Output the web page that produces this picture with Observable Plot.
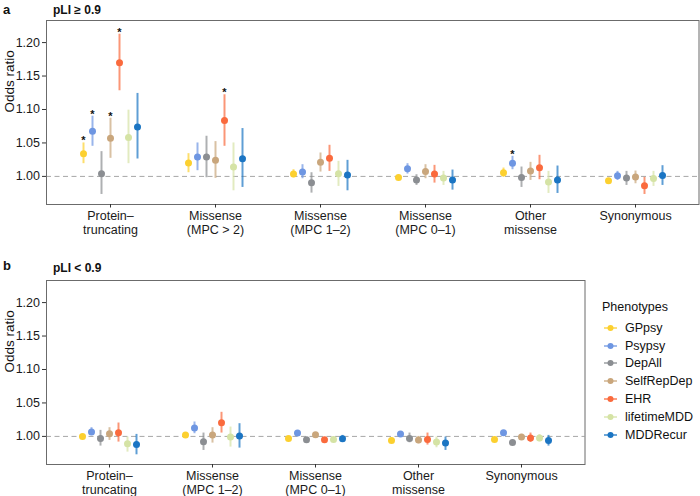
<!DOCTYPE html>
<html>
<head>
<meta charset="utf-8">
<script src="https://cdn.jsdelivr.net/npm/d3@7"></script>
<script src="https://cdn.jsdelivr.net/npm/@observablehq/plot@0.6"></script>
<style>
  html, body { margin: 0; padding: 0; background: #fff; }
  body { width: 700px; height: 496px; overflow: hidden; position: relative; font-family: "Liberation Sans", Arial, sans-serif; color: #111; }
  .abs { position: absolute; }
  .letter { font-weight: bold; font-size: 13px; }
  .ptitle { font-weight: bold; font-size: 12px; }
  #legend { font-size: 12.5px; color: #111; }
  #legend .row { display: flex; align-items: center; height: 17.8px; }
  #legend .row svg { margin-right: 6px; }
</style>
</head>
<body>
<div class="abs letter" style="left:3px;top:2px;">a</div>
<div class="abs ptitle" style="left:53px;top:3px;">pLI ≥ 0.9</div>
<div class="abs" id="panelA" style="left:0;top:0;"></div>
<div class="abs letter" style="left:3px;top:258px;">b</div>
<div class="abs ptitle" style="left:53px;top:261px;">pLI &lt; 0.9</div>
<div class="abs" id="panelB" style="left:0;top:260px;"></div>
<div class="abs" id="legend" style="left:602px;top:299px;"></div>
<script>
// ---------- data ----------
const phenotypes = ["GPpsy", "Psypsy", "DepAll", "SelfRepDep", "EHR", "lifetimeMDD", "MDDRecur"];
const phenoColors = ["#FCD02F", "#6E96E2", "#8B8E92", "#C9A67C", "#FA6A3D", "#D5E3A5", "#1B75C3"];

// Panel a: pLI >= 0.9
const catsA = ["Protein–\ntruncating", "Missense\n(MPC > 2)", "Missense\n(MPC 1–2)", "Missense\n(MPC 0–1)", "Other\nmissense", "Synonymous"];
const orA = [
  [1.034, 1.0675, 1.004, 1.057, 1.170, 1.058, 1.074],
  [1.020, 1.029, 1.029, 1.024, 1.0835, 1.014, 1.0265],
  [1.0035, 1.0065, 0.9905, 1.021, 1.027, 1.004, 1.002],
  [0.9985, 1.0115, 0.9945, 1.0075, 1.0035, 0.9975, 0.9945],
  [1.0055, 1.0195, 0.9985, 1.008, 1.013, 0.9915, 0.9945],
  [0.9935, 1.001, 0.9975, 0.999, 0.986, 0.997, 1.0015]
];
const loA = [
  [1.019, 1.045, 0.973, 1.027, 1.128, 1.019, 1.026],
  [1.0055, 1.0085, 0.998, 0.997, 1.045, 0.9785, 0.9835],
  [0.998, 0.9965, 0.975, 1.0065, 1.0075, 0.985, 0.9785],
  [0.996, 1.0035, 0.9865, 0.9965, 0.990, 0.9865, 0.9795],
  [0.9985, 1.010, 0.9835, 0.994, 0.995, 0.9745, 0.9745],
  [0.991, 0.994, 0.9865, 0.989, 0.973, 0.985, 0.9865]
];
const hiA = [
  [1.050, 1.090, 1.037, 1.087, 1.2125, 1.099, 1.124],
  [1.034, 1.050, 1.060, 1.052, 1.122, 1.050, 1.0715],
  [1.010, 1.0175, 1.0055, 1.035, 1.0465, 1.0225, 1.024],
  [1.001, 1.019, 1.0025, 1.0175, 1.0165, 1.0075, 1.0095],
  [1.0125, 1.030, 1.014, 1.021, 1.0315, 1.0075, 1.0155],
  [0.996, 1.0075, 1.0075, 1.008, 0.9985, 1.0075, 1.016]
];
const starA = [
  [1, 1, 0, 1, 1, 0, 0],
  [0, 0, 0, 0, 1, 0, 0],
  [0, 0, 0, 0, 0, 0, 0],
  [0, 0, 0, 0, 0, 0, 0],
  [0, 1, 0, 0, 0, 0, 0],
  [0, 0, 0, 0, 0, 0, 0]
];

// Panel b: pLI < 0.9
const catsB = ["Protein–\ntruncating", "Missense\n(MPC 1–2)", "Missense\n(MPC 0–1)", "Other\nmissense", "Synonymous"];
const orB = [
  [1.000, 1.0065, 0.997, 1.004, 1.0055, 0.989, 0.988],
  [1.002, 1.0125, 0.992, 1.002, 1.0205, 0.999, 1.0005],
  [0.997, 1.005, 0.995, 1.0025, 0.995, 0.9955, 0.9965],
  [0.994, 1.0035, 0.997, 0.9945, 0.9955, 0.9915, 0.990],
  [0.9955, 1.0055, 0.991, 0.999, 0.9975, 0.9975, 0.994]
];
const loB = [
  [0.998, 1.0015, 0.9855, 0.994, 0.9915, 0.9765, 0.9725],
  [0.998, 1.004, 0.979, 0.990, 1.005, 0.984, 0.9825],
  [0.995, 1.003, 0.993, 1.0005, 0.992, 0.9935, 0.9925],
  [0.992, 0.999, 0.9905, 0.989, 0.987, 0.983, 0.979],
  [0.9935, 1.0035, 0.988, 0.995, 0.991, 0.992, 0.9855]
];
const hiB = [
  [1.002, 1.013, 1.009, 1.013, 1.020, 0.999, 1.003],
  [1.0055, 1.0215, 1.005, 1.013, 1.036, 1.014, 1.019],
  [0.999, 1.007, 0.997, 1.0045, 0.998, 0.9975, 1.0015],
  [0.996, 1.0065, 1.005, 1.000, 1.005, 0.999, 0.999],
  [0.9975, 1.0075, 0.994, 1.003, 1.005, 1.0025, 1.0015]
];

const yTicks = [1.00, 1.05, 1.10, 1.15, 1.20];
const yDomain = [0.958, 1.233];
const yTitle = "Odds ratio";

// ---------- build ----------
function rowsFor(cats, or, lo, hi, star) {
  const rows = [];
  cats.forEach((c, i) => phenotypes.forEach((p, j) => rows.push({
    cat: c, pheno: p, j, or: or[i][j], lo: lo[i][j], hi: hi[i][j], star: star ? star[i][j] : 0
  })));
  return rows;
}

const FONT = "Liberation Sans, Arial, sans-serif";
const STEP = 9; // dodge spacing in px

function panel(cats, rows, width) {
  const marks = [
    Plot.ruleY([1], {stroke: "#a6a6a6", strokeDasharray: "5,3.5", strokeWidth: 1})
  ];
  phenotypes.forEach((p, j) => {
    const sub = rows.filter(r => r.j === j);
    const dx = (j - 3) * STEP;
    marks.push(Plot.ruleX(sub, {x: "cat", y1: "lo", y2: "hi", stroke: phenoColors[j], strokeOpacity: 0.7, strokeWidth: 2, dx}));
    marks.push(Plot.dot(sub, {x: "cat", y: "or", fill: phenoColors[j], r: 3.5, dx}));
    marks.push(Plot.text(sub.filter(r => r.star), {x: "cat", y: "hi", text: () => "*", dx, dy: -2, fontSize: 11, fontWeight: "bold", fill: "#111"}));
  });
  marks.push(Plot.frame({stroke: "#6b6b6b", strokeWidth: 1}));
  marks.push(Plot.axisX({tickSize: 3.5, tickPadding: 2, fontSize: 12.5, lineHeight: 1.12, label: null, fill: "#1a1a1a", stroke: "#333"}));
  marks.push(Plot.axisY({ticks: yTicks, tickFormat: ".2f", tickSize: 4, tickPadding: 2.5, fontSize: 12.5, label: null, fill: "#1a1a1a", stroke: "#333"}));
  marks.push(Plot.text([yTitle], {frameAnchor: "left", rotate: -90, dx: -37, fontSize: 13.5, fill: "#111"}));
  return Plot.plot({
    width,
    height: 241,
    marginTop: 20,
    marginBottom: 37,
    marginLeft: 46,
    marginRight: 1.5,
    style: {fontFamily: FONT, background: "transparent"},
    x: {type: "point", domain: cats, padding: 0.6},
    y: {domain: yDomain},
    marks
  });
}

document.getElementById("panelA").appendChild(panel(catsA, rowsFor(catsA, orA, loA, hiA, starA), 700));
document.getElementById("panelB").appendChild(panel(catsB, rowsFor(catsB, orB, loB, hiB, null), 586));

// ---------- legend ----------
const leg = document.getElementById("legend");
const title = document.createElement("div");
title.textContent = "Phenotypes";
title.style.cssText = "font-size:12.5px;margin-bottom:3px;height:17px;line-height:17px;";
leg.appendChild(title);
phenotypes.forEach((p, j) => {
  const row = document.createElement("div");
  row.className = "row";
  const ns = "http://www.w3.org/2000/svg";
  const svg = document.createElementNS(ns, "svg");
  svg.setAttribute("width", 17); svg.setAttribute("height", 12);
  const ln = document.createElementNS(ns, "line");
  ln.setAttribute("x1", 2); ln.setAttribute("x2", 15); ln.setAttribute("y1", 6); ln.setAttribute("y2", 6);
  ln.setAttribute("stroke", phenoColors[j]); ln.setAttribute("stroke-width", 1.6); ln.setAttribute("stroke-opacity", 0.8);
  const c = document.createElementNS(ns, "circle");
  c.setAttribute("cx", 8.5); c.setAttribute("cy", 6); c.setAttribute("r", 3); c.setAttribute("fill", phenoColors[j]);
  svg.appendChild(ln); svg.appendChild(c);
  const t = document.createElement("span");
  t.textContent = p;
  row.appendChild(svg); row.appendChild(t);
  leg.appendChild(row);
});
</script>
</body>
</html>
